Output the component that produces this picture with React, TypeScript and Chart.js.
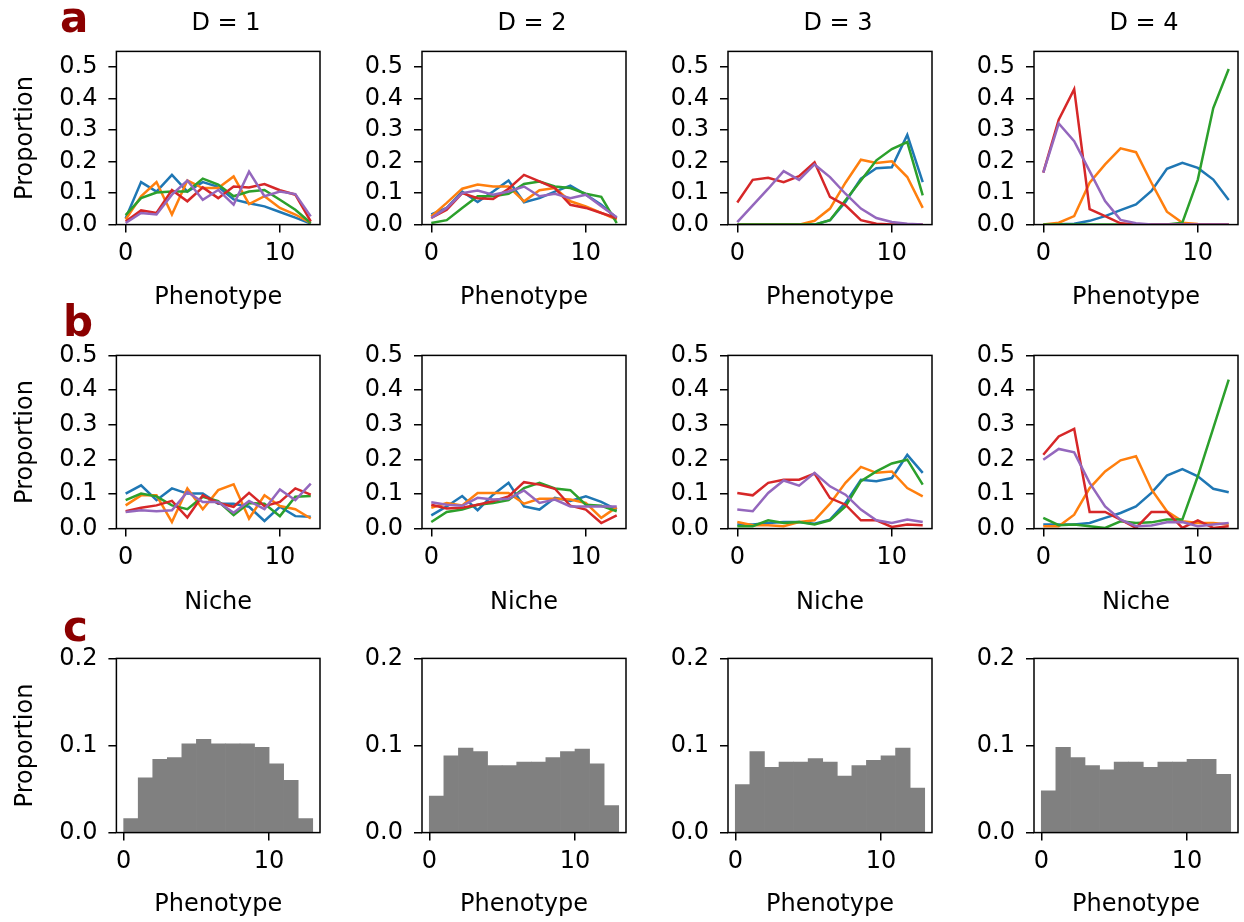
import React, { useEffect, useRef } from "react";
import { Chart, registerables } from "chart.js";

Chart.register(...registerables);

// ---------- data ----------
const X_POS = [0, 1, 2, 3, 4, 5, 6, 7, 8, 9, 10, 11, 12];
const BIN_LEFT = [0, 1, 2, 3, 4, 5, 6, 7, 8, 9, 10, 11, 12];
const SERIES_COLORS = ["#1f77b4", "#ff7f0e", "#2ca02c", "#d62728", "#9467bd"];
const D_TITLES = ["D = 1", "D = 2", "D = 3", "D = 4"];
const ROW_LETTERS = ["a", "b", "c"];
const X_TICKS = [0, 10];
const Y_TICKS_AB = [0, 0.1, 0.2, 0.3, 0.4, 0.5];
const Y_TICKS_C = [0, 0.1, 0.2];

// row a: phenotype distributions (blue, orange, green, red, purple)
const PHENO_D1 = [
  [0.02, 0.135, 0.105, 0.158, 0.105, 0.135, 0.12, 0.08, 0.068, 0.058, 0.04, 0.022, 0.003],
  [0.016, 0.09, 0.135, 0.032, 0.14, 0.116, 0.116, 0.153, 0.065, 0.09, 0.053, 0.032, 0.005],
  [0.03, 0.084, 0.102, 0.105, 0.105, 0.146, 0.127, 0.09, 0.105, 0.11, 0.079, 0.047, 0.005],
  [0.01, 0.045, 0.037, 0.11, 0.074, 0.118, 0.084, 0.121, 0.118, 0.129, 0.109, 0.095, 0.01],
  [0.005, 0.037, 0.032, 0.095, 0.14, 0.079, 0.11, 0.063, 0.168, 0.09, 0.105, 0.097, 0.026],
];
const PHENO_D2 = [
  [0.032, 0.053, 0.105, 0.072, 0.105, 0.14, 0.071, 0.084, 0.105, 0.124, 0.095, 0.063, 0.021],
  [0.026, 0.069, 0.114, 0.127, 0.121, 0.121, 0.074, 0.109, 0.116, 0.074, 0.058, 0.037, 0.016],
  [0.005, 0.014, 0.053, 0.09, 0.09, 0.098, 0.129, 0.137, 0.121, 0.116, 0.098, 0.088, 0.005],
  [0.021, 0.047, 0.1, 0.084, 0.081, 0.114, 0.158, 0.137, 0.116, 0.063, 0.053, 0.037, 0.021],
  [0.021, 0.053, 0.1, 0.108, 0.095, 0.105, 0.121, 0.09, 0.098, 0.084, 0.095, 0.058, 0.023],
];
const PHENO_D3 = [
  [0, 0, 0, 0, 0, 0, 0.014, 0.072, 0.146, 0.179, 0.182, 0.285, 0.135],
  [0, 0, 0, 0, 0, 0.012, 0.051, 0.133, 0.206, 0.196, 0.201, 0.151, 0.053],
  [0, 0, 0, 0, 0, 0, 0.014, 0.077, 0.14, 0.204, 0.24, 0.262, 0.093],
  [0.07, 0.142, 0.149, 0.135, 0.154, 0.198, 0.088, 0.061, 0.014, 0.003, 0, 0, 0],
  [0.008, 0.061, 0.114, 0.17, 0.142, 0.191, 0.151, 0.098, 0.051, 0.021, 0.008, 0.003, 0],
];
const PHENO_D4 = [
  [0, 0.001, 0.003, 0.012, 0.027, 0.046, 0.064, 0.107, 0.177, 0.196, 0.18, 0.143, 0.078],
  [0, 0.006, 0.027, 0.133, 0.191, 0.242, 0.23, 0.133, 0.041, 0.006, 0.002, 0, 0],
  [0, 0, 0, 0, 0, 0, 0, 0, 0, 0.006, 0.143, 0.37, 0.494],
  [0.165, 0.333, 0.43, 0.049, 0.027, 0.004, 0, 0, 0, 0, 0, 0, 0],
  [0.165, 0.321, 0.265, 0.17, 0.075, 0.015, 0.004, 0, 0, 0, 0, 0, 0],
];

// row b: niche distributions (blue, orange, green, red, purple)
const NICHE_D1 = [
  [0.101, 0.125, 0.082, 0.116, 0.101, 0.101, 0.072, 0.072, 0.063, 0.022, 0.063, 0.036, 0.034],
  [0.067, 0.096, 0.096, 0.019, 0.116, 0.056, 0.111, 0.128, 0.029, 0.096, 0.065, 0.056, 0.029],
  [0.082, 0.101, 0.093, 0.067, 0.056, 0.092, 0.079, 0.039, 0.074, 0.072, 0.036, 0.092, 0.094],
  [0.05, 0.06, 0.067, 0.08, 0.032, 0.096, 0.074, 0.063, 0.103, 0.065, 0.077, 0.116, 0.098],
  [0.048, 0.053, 0.05, 0.053, 0.106, 0.077, 0.077, 0.046, 0.08, 0.056, 0.113, 0.082, 0.13],
];
const NICHE_D2 = [
  [0.038, 0.064, 0.094, 0.053, 0.098, 0.132, 0.064, 0.055, 0.089, 0.08, 0.093, 0.077, 0.055],
  [0.06, 0.074, 0.067, 0.103, 0.103, 0.103, 0.072, 0.086, 0.086, 0.084, 0.074, 0.031, 0.062],
  [0.019, 0.048, 0.055, 0.069, 0.074, 0.082, 0.117, 0.132, 0.116, 0.111, 0.069, 0.066, 0.05],
  [0.069, 0.058, 0.06, 0.069, 0.079, 0.093, 0.134, 0.127, 0.115, 0.066, 0.055, 0.016, 0.038],
  [0.076, 0.069, 0.066, 0.089, 0.084, 0.086, 0.11, 0.074, 0.084, 0.064, 0.064, 0.064, 0.064],
];
const NICHE_D3 = [
  [0.012, 0.012, 0.016, 0.019, 0.019, 0.014, 0.026, 0.074, 0.141, 0.137, 0.146, 0.213, 0.161],
  [0.019, 0.01, 0.01, 0.007, 0.019, 0.024, 0.072, 0.132, 0.178, 0.161, 0.165, 0.117, 0.093],
  [0.007, 0.007, 0.024, 0.016, 0.019, 0.012, 0.024, 0.064, 0.137, 0.165, 0.188, 0.199, 0.127],
  [0.103, 0.096, 0.132, 0.141, 0.141, 0.159, 0.088, 0.069, 0.024, 0.024, 0.005, 0.012, 0.01],
  [0.055, 0.05, 0.103, 0.139, 0.124, 0.161, 0.122, 0.098, 0.055, 0.024, 0.016, 0.026, 0.019],
];
const NICHE_D4 = [
  [0.012, 0.012, 0.012, 0.016, 0.031, 0.045, 0.064, 0.103, 0.153, 0.172, 0.151, 0.115, 0.105],
  [0.007, 0.007, 0.04, 0.117, 0.165, 0.197, 0.209, 0.113, 0.05, 0.021, 0.016, 0.016, 0.012],
  [0.031, 0.01, 0.012, 0.007, 0.002, 0.021, 0.016, 0.018, 0.026, 0.026, 0.151, 0.29, 0.43],
  [0.213, 0.266, 0.288, 0.048, 0.048, 0.026, 0.002, 0.048, 0.048, 0.002, 0.024, 0.002, 0.007],
  [0.199, 0.23, 0.22, 0.132, 0.064, 0.026, 0.007, 0.009, 0.018, 0.019, 0.007, 0.012, 0.016],
];

// row c: phenotype histograms
const HIST_D1 = [0.016, 0.063, 0.084, 0.086, 0.102, 0.107, 0.102, 0.102, 0.102, 0.098, 0.079, 0.06, 0.016];
const HIST_D2 = [0.042, 0.088, 0.097, 0.093, 0.077, 0.077, 0.081, 0.081, 0.086, 0.093, 0.096, 0.079, 0.031];
const HIST_D3 = [0.055, 0.093, 0.075, 0.081, 0.081, 0.085, 0.081, 0.065, 0.077, 0.083, 0.088, 0.097, 0.051];
const HIST_D4 = [0.048, 0.098, 0.086, 0.077, 0.072, 0.081, 0.081, 0.075, 0.081, 0.081, 0.084, 0.084, 0.067];

// ---------- layout ----------
const FONT = "DejaVu Sans";
const TICK_SIZE = 24;
const LABEL_SIZE = 24;
const TITLE_SIZE = 24;
const TICK_LEN = 8;
const TICK_PAD = 7;
const Y_TICK_PAD = 11;
const COL_LEFT = [116, 422, 728, 1034];
const PLOT_W = 204;
const ROWS = [
  { top: 50, height: 175, xTitleCY: 298, yMax: 0.55, xMin: -0.6, xMax: 12.6, xTitle: "Phenotype" },
  { top: 354, height: 175, xTitleCY: 603, yMax: 0.5, xMin: -0.6, xMax: 12.6, xTitle: "Niche" },
  { top: 657, height: 176, xTitleCY: 905, yMax: 0.2, xMin: -0.5, xMax: 13.5, xTitle: "Phenotype" },
];
const TITLE_TOP = 10;
const TITLE_SHIFT = 8;
const Y_TITLE_CX = 25;

const framePlugin = {
  id: "frame",
  afterDatasetsDraw(chart: any) {
    const { ctx, chartArea } = chart;
    const { left, top, right, bottom } = chartArea;
    ctx.save();
    ctx.strokeStyle = "#000";
    ctx.lineWidth = 1.5;
    ctx.strokeRect(left, top, right - left, bottom - top);
    ctx.restore();
  },
};

type PanelProps = {
  row: number;
  col: number;
};

function Panel({ row, col }: PanelProps) {
  const ref = useRef<HTMLCanvasElement | null>(null);
  const R = ROWS[row];
  const plotLeft = COL_LEFT[col];
  const plotTop = R.top;
  const plotBottom = R.top + R.height;
  const lh = LABEL_SIZE * 1.2;
  const showYTitle = col === 0;
  const canvasLeft = showYTitle ? Y_TITLE_CX - lh / 2 : plotLeft - 100;
  const YW = plotLeft - canvasLeft;
  const TOP = 24;
  const canvasTop = plotTop - TOP;
  const XH = R.xTitleCY - plotBottom + lh / 2;
  const RIGHT = 6;
  const width = Math.round(YW + PLOT_W + RIGHT);
  const height = Math.round(TOP + R.height + XH);

  useEffect(() => {
    if (!ref.current) return;
    const yTicks = row === 2 ? Y_TICKS_C : Y_TICKS_AB;
    let datasets: any[] = [];
    let type: any = "line";
    if (row < 2) {
      const series = row === 0
        ? [PHENO_D1, PHENO_D2, PHENO_D3, PHENO_D4][col]
        : [NICHE_D1, NICHE_D2, NICHE_D3, NICHE_D4][col];
      datasets = series.map((s, k) => ({
        label: "s" + k,
        data: X_POS.map((x, i) => ({ x, y: s[i] })),
        borderColor: SERIES_COLORS[k],
        backgroundColor: SERIES_COLORS[k],
        borderWidth: 2.5,
        pointRadius: 0,
        tension: 0,
        fill: false,
        order: 4 - k,
      }));
    } else {
      type = "bar";
      const h = [HIST_D1, HIST_D2, HIST_D3, HIST_D4][col];
      datasets = [
        {
          label: "hist",
          data: BIN_LEFT.map((x, i) => ({ x: x + 0.5, y: h[i] })),
          backgroundColor: "#808080",
          borderWidth: 0,
          barPercentage: 1,
          categoryPercentage: 1,
        },
      ];
    }
    const tickFont = { family: FONT, size: TICK_SIZE };
    const labelFont = { family: FONT, size: LABEL_SIZE };
    const chart = new Chart(ref.current, {
      type,
      data: { datasets },
      options: {
        responsive: false,
        maintainAspectRatio: false,
        devicePixelRatio: 1,
        animation: false,
        events: [],
        layout: { padding: { top: TOP, left: 0, right: RIGHT, bottom: 0 } },
        plugins: {
          legend: { display: false },
          tooltip: { enabled: false },
          title: { display: false },
        },
        scales: {
          x: {
            type: "linear",
            position: "bottom",
            min: R.xMin,
            max: R.xMax,
            offset: false,
            afterBuildTicks: (s: any) => {
              s.ticks = X_TICKS.map((v) => ({ value: v }));
            },
            afterFit: (s: any) => {
              s.height = XH;
            },
            ticks: {
              font: tickFont,
              color: "#000",
              padding: TICK_PAD,
              maxRotation: 0,
              autoSkip: false,
              callback: (v: any) => String(v),
            },
            grid: {
              offset: false,
              drawOnChartArea: false,
              drawTicks: true,
              tickLength: TICK_LEN,
              color: "#000",
              lineWidth: 1.5,
            },
            border: { display: false },
            title: { display: true, text: R.xTitle, color: "#000", font: labelFont, padding: 0 },
          },
          y: {
            type: "linear",
            position: "left",
            min: 0,
            max: R.yMax,
            afterBuildTicks: (s: any) => {
              s.ticks = yTicks.map((v) => ({ value: v }));
            },
            afterFit: (s: any) => {
              s.width = YW;
            },
            ticks: {
              font: tickFont,
              color: "#000",
              padding: Y_TICK_PAD,
              autoSkip: false,
              callback: (v: any) => Number(v).toFixed(1),
            },
            grid: {
              drawOnChartArea: false,
              drawTicks: true,
              tickLength: TICK_LEN,
              color: "#000",
              lineWidth: 1.5,
            },
            border: { display: false },
            title: { display: showYTitle, text: "Proportion", color: "#000", font: labelFont, padding: 0 },
          },
        },
      } as any,
      plugins: [framePlugin],
    });
    return () => chart.destroy();
  }, [row, col]);

  return (
    <canvas
      ref={ref}
      width={width}
      height={height}
      style={{ position: "absolute", left: canvasLeft, top: canvasTop, width, height }}
    />
  );
}

const LETTER_POS = [
  { left: 60, top: -3 },
  { left: 63, top: 301 },
  { left: 63, top: 606 },
];

export default function App() {
  const panels: React.ReactNode[] = [];
  for (let r = 0; r < 3; r++) {
    for (let c = 0; c < 4; c++) {
      panels.push(<Panel key={r + "-" + c} row={r} col={c} />);
    }
  }
  return (
    <div
      style={{
        position: "absolute",
        left: 0,
        top: 0,
        width: 1244,
        height: 922,
        background: "#fff",
        overflow: "hidden",
      }}
    >
      {panels}
      {D_TITLES.map((t, c) => (
        <div
          key={t}
          style={{
            position: "absolute",
            left: COL_LEFT[c] + PLOT_W / 2 + TITLE_SHIFT - 100,
            width: 200,
            top: TITLE_TOP,
            textAlign: "center",
            fontFamily: FONT,
            fontSize: TITLE_SIZE,
            lineHeight: "24px",
            color: "#000",
          }}
        >
          {t}
        </div>
      ))}
      {ROW_LETTERS.map((t, i) => (
        <div
          key={t}
          style={{
            position: "absolute",
            left: LETTER_POS[i].left,
            top: LETTER_POS[i].top,
            fontFamily: FONT,
            fontWeight: "bold",
            fontSize: 42,
            lineHeight: 1,
            color: "#8b0000",
          }}
        >
          {t}
        </div>
      ))}
    </div>
  );
}
